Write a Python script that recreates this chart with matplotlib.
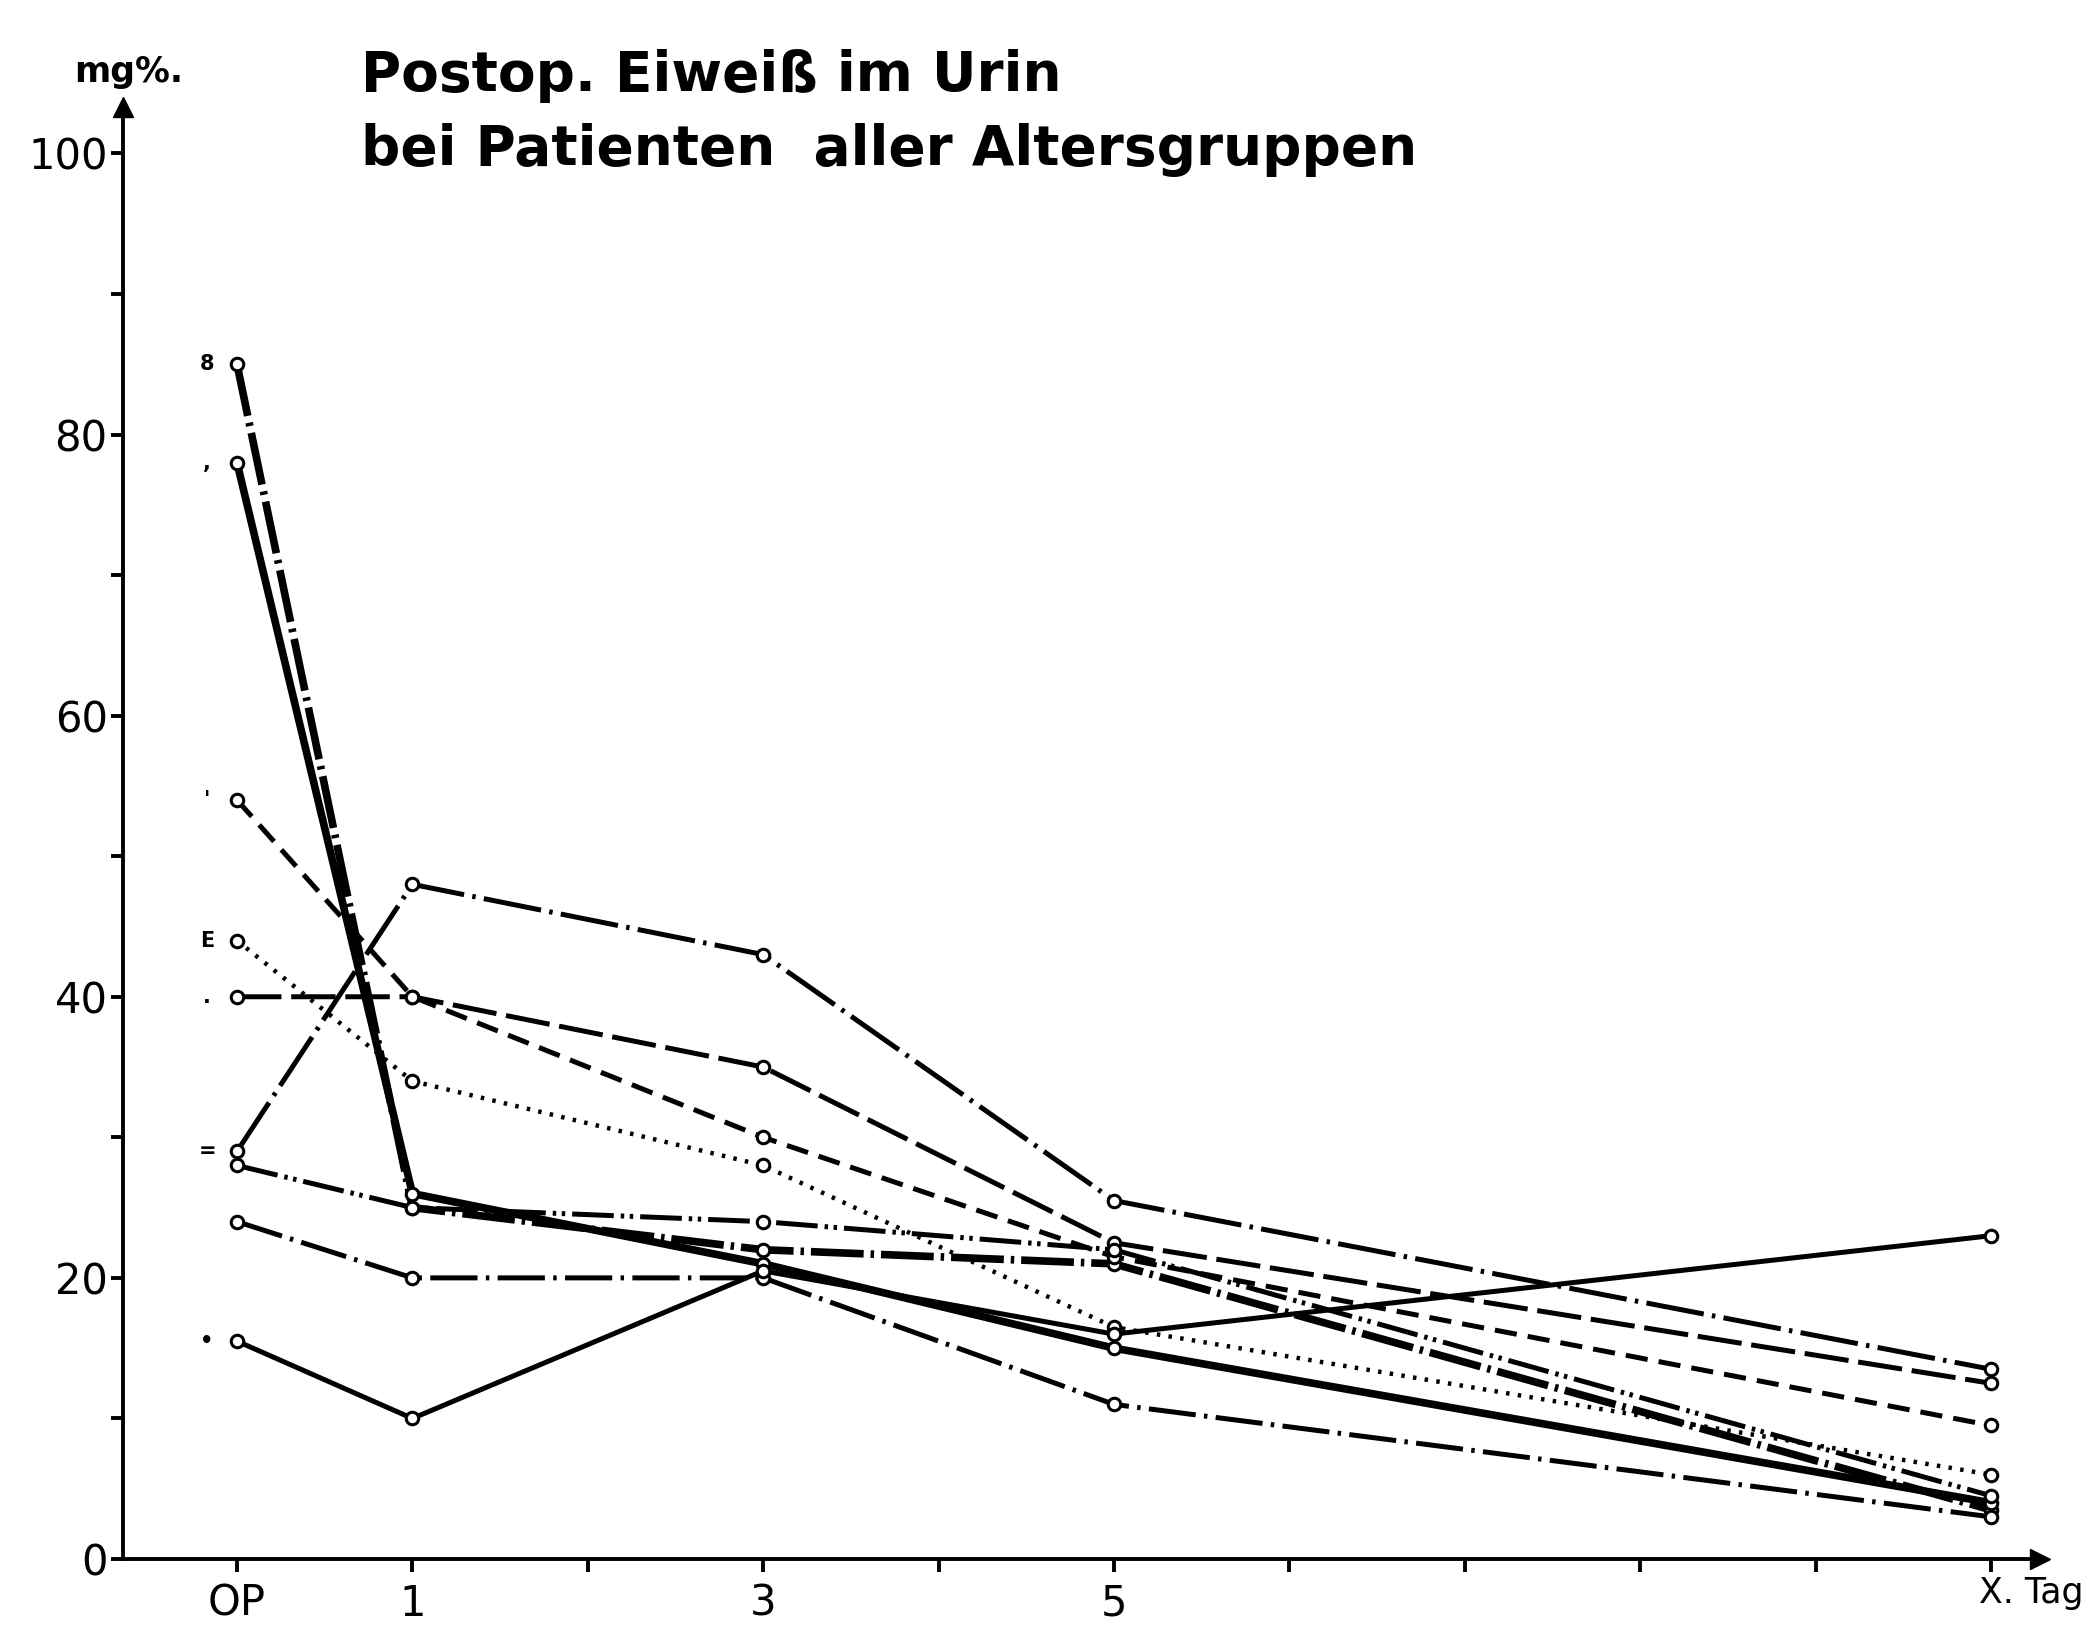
import matplotlib.pyplot as plt

plt.rcParams['font.family'] = ['DejaVu Sans']
plt.rcParams['lines.scale_dashes'] = False

# Tage nach OP (0 = OP, 10 = X. Tag)
days = [0, 1, 3, 5, 10]

# Eiweiß im Urin, mg%, je Patient
p8 = [85, 25, 22, 21, 3.5]
p7 = [78, 26, 21, 15, 4]
p4 = [54, 40, 30, 21.5, 9.5]
p6 = [44, 34, 28, 16.5, 6]
p1 = [40, 40, 35, 22.5, 12.5]
p2 = [29, 48, 43, 25.5, 13.5]
p3 = [28, 25, 24, 22, 4.5]
p5 = [24, 20, 20, 11, 3]
p9 = [15.5, 10, 20.5, 16, 23]

series = [p8, p7, p4, p6, p1, p2, p3, p5, p9]
marks = ["8", ",", "'", "E", ".", "=", "", "", "•"]

styles = [
    dict(lw=5.5, dashes=(38, 5, 2.5, 5)),
    dict(lw=5.5, ls='-'),
    dict(lw=3.6, dashes=(16, 8)),
    dict(lw=3.2, dashes=(2.5, 6)),
    dict(lw=3.6, dashes=(32, 7)),
    dict(lw=3.6, dashes=(42, 6, 2.5, 6)),
    dict(lw=3.6, dashes=(30, 5, 2.5, 4, 2.5, 5)),
    dict(lw=3.6, dashes=(34, 6, 2.5, 6)),
    dict(lw=3.6, ls='-'),
]

fig = plt.figure(figsize=(21, 16.27), dpi=100)
ax = fig.add_axes([123 / 2100, (1627 - 1559) / 1627, (2040 - 123) / 2100, (1559 - 107) / 1627])

for vals, st, mk in zip(series, styles, marks):
    ax.plot(days, vals, color='black', marker='o', ms=9, mfc='white',
            mec='black', mew=2.2, **st)
    if mk:
        ax.text(-0.17, vals[0], mk, fontsize=15, fontweight='bold',
                ha='center', va='center')

ax.set_xlim(-0.65, 10.28)
ax.set_ylim(0, 103.3)

for s in ['top', 'right']:
    ax.spines[s].set_visible(False)
for s in ['left', 'bottom']:
    ax.spines[s].set_linewidth(2.8)

ax.set_yticks([0, 20, 40, 60, 80, 100])
ax.set_yticks([10, 30, 50, 70, 90], minor=True)
ax.set_xticks(range(11))
ax.set_xticklabels(["OP", "1", "", "3", "", "5", "", "", "", "", ""])
ax.tick_params(axis='both', which='both', direction='out', width=2.8,
               labelsize=30, length=9, pad=2)
ax.tick_params(axis='x', pad=8)

ax.plot(0, 1, marker='^', ms=14, color='black', transform=ax.transAxes, clip_on=False)
ax.plot(1, 0, marker='>', ms=14, color='black', transform=ax.transAxes, clip_on=False)

ax.text(9.93, -1.2, "X. Tag", fontsize=25, ha='left', va='top', clip_on=False)

fig.text(74 / 2100, 1 - 82 / 1627, "mg%.", fontsize=25, fontweight='bold',
         ha='left', va='baseline')
fig.text(361 / 2100, 1 - 91 / 1627, "Postop. Eiweiß im Urin",
         fontsize=39.5, fontweight='bold', ha='left', va='baseline')
fig.text(361 / 2100, 1 - 165 / 1627, "bei Patienten  aller Altersgruppen",
         fontsize=39.5, fontweight='bold', ha='left', va='baseline')

fig.savefig("out.png", dpi=100, facecolor='white')
